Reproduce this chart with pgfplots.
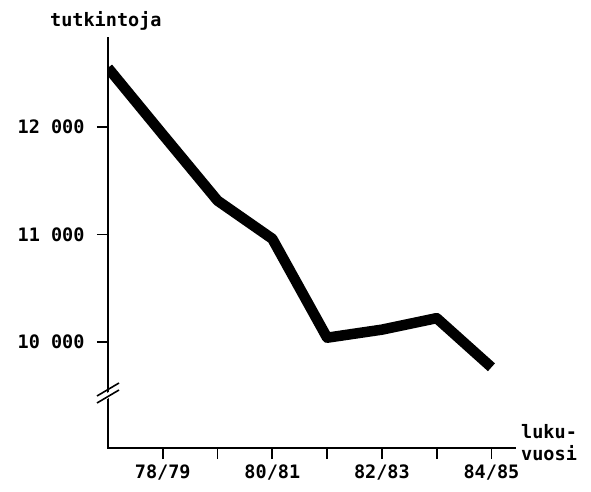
\documentclass[border=0pt]{standalone}
\usepackage{fontspec}
\setmonofont{DejaVu Sans Mono}
\usepackage{pgfplots}
\pgfplotsset{compat=1.18}

\newcommand\lab{\ttfamily\bfseries\fontsize{18.5}{22}\selectfont}

\begin{document}
\begin{tikzpicture}
% page = 591 x 491, axis box lower left at (0,0)
\useasboundingbox (-108pt,-43pt) rectangle (483pt,448pt);
\begin{axis}[
    scale only axis,
    width=407pt, height=410pt,
    xmin=0, xmax=7.43,
    ymin=9014, ymax=12828,
    scaled y ticks=false,
    axis x line=bottom, axis y line=left,
    axis line style={-, line width=2.8pt, line cap=rect},
    tick align=outside,
    major tick length=11pt,
    tick style={black, line width=1.8pt},
    xtick={1,2,3,4,5,6,7},
    xticklabels={78/79,,80/81,,82/83,,84/85},
    ytick={10000,11000,12000},
    yticklabels={10 000,11 000,12 000},
    ticklabel style={font=\lab},
    yticklabel style={xshift=-9pt},
    xticklabel style={yshift=-2pt},
  ]
  \addplot[black, line width=10.5pt, line join=round] coordinates {
    (0,12550) (1,11930) (2,11315) (3,10960) (4,10040)
    (5,10115) (6,10222) (7,9765)
  };
  \coordinate (brk) at (axis cs:0,9535);
  \coordinate (top) at (axis cs:0,12828);
  \coordinate (end) at (axis cs:7.43,9014);
\end{axis}
% broken axis
\fill[white] ([shift={(-11pt,-7pt)}]brk) -- ([shift={(11pt,6pt)}]brk)
  -- ([shift={(11pt,0pt)}]brk) -- ([shift={(-11pt,-13pt)}]brk) -- cycle;
\draw[line width=1.6pt] ([shift={(-11pt,-4pt)}]brk) -- ([shift={(11pt,9pt)}]brk);
\draw[line width=1.6pt] ([shift={(-11pt,-11pt)}]brk) -- ([shift={(11pt,2pt)}]brk);
\node[anchor=base west, inner sep=0pt, font=\lab] at ([shift={(-58pt,11pt)}]top) {tutkintoja};
\node[anchor=west, inner sep=0pt, align=left, font=\lab] at ([shift={(6pt,5pt)}]end) {luku-\\vuosi};
\end{tikzpicture}
\end{document}
